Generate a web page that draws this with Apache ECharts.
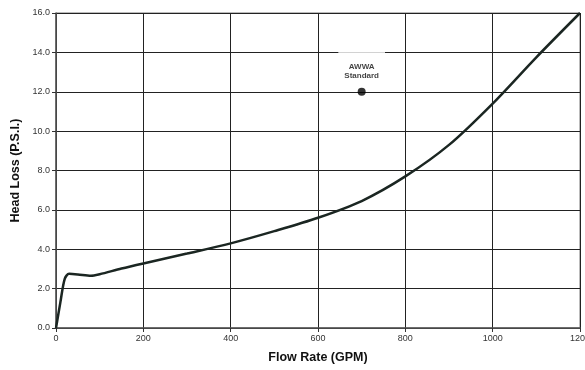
<!DOCTYPE html>
<html><head><meta charset="utf-8">
<script src="https://cdn.jsdelivr.net/npm/echarts@6/dist/echarts.min.js"></script>
<style>html,body{margin:0;padding:0;background:#fff}#c{width:585px;height:370px}</style>
</head><body><div id="c"></div>
<script>
const flowRate = [0, 10, 20, 30, 50, 80, 100, 150, 200, 300, 400, 500, 600, 700, 800, 900, 1000, 1100, 1200];
const headLoss = [0, 1.3, 2.5, 2.75, 2.72, 2.65, 2.73, 3.02, 3.28, 3.78, 4.3, 4.92, 5.6, 6.45, 7.7, 9.3, 11.4, 13.75, 16.0];
const awwaPoint = [700, 12.0];
const awwaLabel = 'AWWA\nStandard';
const xTitle = 'Flow Rate (GPM)';
const yTitle = 'Head Loss (P.S.I.)';

const titleFont = '"Liberation Sans", Arial, sans-serif';
const chart = echarts.init(document.getElementById('c'), null, {renderer: 'canvas'});
chart.setOption({
  animation: false,
  backgroundColor: '#fff',
  grid: {left: 56, right: 5, top: 13, bottom: 42, containLabel: false, outerBoundsMode: 'none', show: true, borderColor: '#777', borderWidth: 1},
  xAxis: {
    type: 'value', min: 0, max: 1200, interval: 200,
    name: xTitle, nameLocation: 'middle', nameGap: 23,
    nameTextStyle: {fontFamily: titleFont, fontWeight: 'bold', fontSize: 12.5, color: '#111'},
    axisLine: {lineStyle: {color: '#555', width: 1.5}},
    axisTick: {show: true, length: 4, lineStyle: {color: '#333'}},
    axisLabel: {fontFamily: '"Liberation Sans", Arial, sans-serif', fontSize: 9, color: '#333', margin: 6, formatter: v => String(v), hideOverlap: false},
    splitLine: {show: true, lineStyle: {color: '#222', width: 1}}
  },
  yAxis: {
    type: 'value', min: 0, max: 16, interval: 2,
    name: yTitle, nameLocation: 'middle', nameGap: 34,
    nameTextStyle: {fontFamily: titleFont, fontWeight: 'bold', fontSize: 12.5, color: '#111'},
    axisLine: {show: true, lineStyle: {color: '#555', width: 1.5}},
    axisTick: {show: true, length: 4, lineStyle: {color: '#333'}},
    axisLabel: {fontFamily: '"Liberation Sans", Arial, sans-serif', fontSize: 9, color: '#333', margin: 6, formatter: v => v.toFixed(1)},
    splitLine: {show: true, lineStyle: {color: '#222', width: 1}}
  },
  series: [
    {
      type: 'line', data: flowRate.map((x, i) => [x, headLoss[i]]),
      smooth: 0.3, showSymbol: false, symbol: 'none',
      lineStyle: {color: '#1b2622', width: 2.5}, z: 3
    },
    {
      type: 'scatter', data: [awwaPoint], symbolSize: 8,
      itemStyle: {color: '#000'},
      label: {
        show: true, position: 'top', distance: 6,
        formatter: awwaLabel,
        fontFamily: '"Liberation Sans", Arial, sans-serif', fontWeight: 'bold', fontSize: 8, lineHeight: 9,
        color: '#111', backgroundColor: '#fff', padding: [12, 6, 1, 6]
      },
      z: 4
    }
  ]
});
</script></body></html>
